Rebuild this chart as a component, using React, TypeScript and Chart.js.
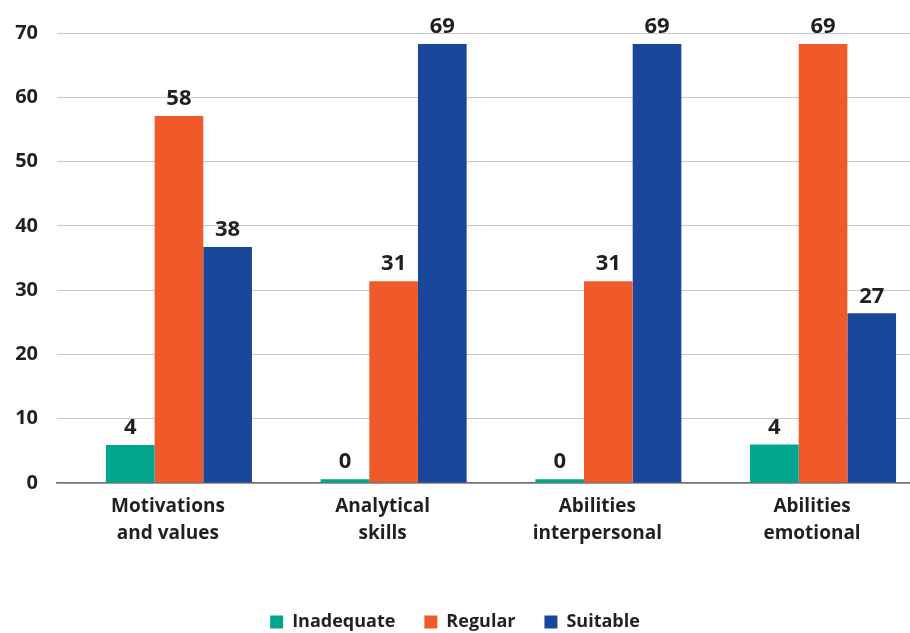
import React, { useEffect, useRef } from "react";
import { Chart, registerables } from "chart.js";

Chart.register(...registerables);

const categories: string[][] = [
  ["Motivations", "and values"],
  ["Analytical", "skills"],
  ["Abilities", "interpersonal"],
  ["Abilities", "emotional"],
];
const seriesNames = ["Inadequate", "Regular", "Suitable"];
const seriesColors = ["#00a68e", "#f05a2b", "#1a479b"];

// bar heights as drawn in the picture
const inadequate = [5.9, 0.6, 0.6, 6.0];
const regular = [57.1, 31.4, 31.4, 68.3];
const suitable = [36.7, 68.3, 68.3, 26.4];

// value labels as printed above the bars
const inadequateLabels = ["4", "0", "0", "4"];
const regularLabels = ["58", "31", "31", "69"];
const suitableLabels = ["38", "69", "69", "27"];

const yMin = 0;
const yMax = 70;
const yStep = 10;

const TEXT = "#231f20";
const FONT = "'Open Sans', 'DejaVu Sans', sans-serif";

const seriesValues = [inadequate, regular, suitable];
const seriesLabels = [inadequateLabels, regularLabels, suitableLabels];

const valueLabelPlugin = {
  id: "valueLabels",
  afterDatasetsDraw(chart: any) {
    const ctx = chart.ctx;
    ctx.save();
    ctx.font = `700 22px ${FONT}`;
    ctx.fillStyle = TEXT;
    ctx.textAlign = "center";
    ctx.textBaseline = "bottom";
    chart.data.datasets.forEach((ds: any, di: number) => {
      const meta = chart.getDatasetMeta(di);
      meta.data.forEach((el: any, i: number) => {
        ctx.fillText(seriesLabels[di][i], el.x, el.y - 6);
      });
    });
    ctx.restore();
  },
};

export default function App() {
  const ref = useRef<HTMLCanvasElement>(null);
  useEffect(() => {
    if (!ref.current) return;
    const chart = new Chart(ref.current, {
      type: "bar",
      data: {
        datasets: seriesNames.map((name, di) => ({
          label: name,
          data: seriesValues[di].map((v, i) => ({ x: i, y: v })),
          backgroundColor: seriesColors[di],
          borderWidth: 0,
          categoryPercentage: 0.68,
          barPercentage: 1,
        })),
      },
      options: {
        responsive: false,
        animation: false,
        layout: { padding: { top: 33, right: 0, bottom: -8, left: 0 } },
        plugins: {
          legend: {
            position: "bottom",
            labels: {
              boxWidth: 13,
              boxHeight: 13,
              padding: 29,
              color: TEXT,
              font: { family: FONT, size: 18, weight: "700" },
            },
          },
          tooltip: { enabled: false },
        },
        scales: {
          x: {
            type: "linear",
            min: -0.568,
            max: 3.405,
            offset: false,
            grid: { display: false, drawTicks: false, offset: false },
            border: { display: true, color: "#6d6e71", width: 1.5 },
            afterFit: (scale: any) => {
              scale.height = 101;
            },
            ticks: {
              stepSize: 1,
              includeBounds: false,
              autoSkip: false,
              maxRotation: 0,
              padding: 10,
              labelOffset: -11,
              color: TEXT,
              font: { family: FONT, size: 19, weight: "700", lineHeight: 1.42 },
              callback: (v: any) => {
                const n = Number(v);
                return Number.isInteger(n) && categories[n] ? categories[n] : "";
              },
            },
          },
          y: {
            min: yMin,
            max: yMax,
            grid: { color: "#c8c8c8", lineWidth: 1, drawTicks: false },
            border: { display: false },
            afterFit: (scale: any) => {
              scale.width = 57;
            },
            ticks: {
              stepSize: yStep,
              padding: 19,
              color: TEXT,
              font: { family: FONT, size: 20, weight: "700" },
            },
          },
        },
      },
      plugins: [valueLabelPlugin],
    });
    return () => chart.destroy();
  }, []);
  return (
    <div style={{ position: "fixed", left: 0, top: 0, width: 910, height: 633, background: "#fff" }}>
      <canvas ref={ref} width={910} height={633} />
    </div>
  );
}
